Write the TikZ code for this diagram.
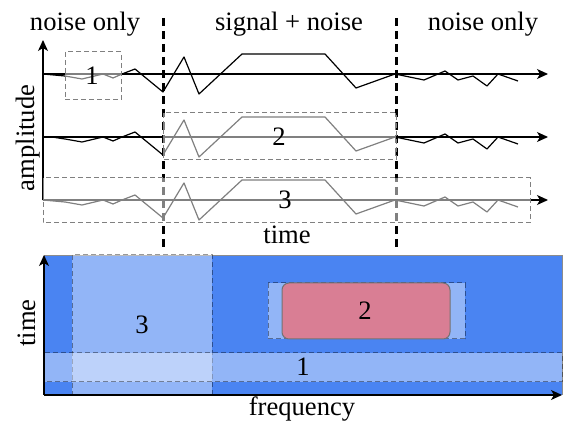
\documentclass[tikz,border=0pt]{standalone}
\usepackage{fontspec}
\setmainfont{Liberation Serif}
\usetikzlibrary{arrows.meta}
\definecolor{tfblue}{RGB}{74,132,242}
\definecolor{tfred}{RGB}{217,126,148}
\tikzset{
  axisarrow/.style={line width=0.6pt,-{Stealth[length=5.5pt,width=5pt,inset=1.5pt]}},
  trace/.style={line width=0.6pt,line join=round},
  border/.style={line width=1.5pt,dash pattern=on 4pt off 2.5pt},
  veil/.style={fill=white,fill opacity=0.5,draw=black!50,line width=0.5pt,dash pattern=on 2.5pt off 1.5pt},
  tfveil/.style={fill=white,fill opacity=0.4,draw=black,draw opacity=0.4,line width=0.5pt,dash pattern=on 2.5pt off 1.5pt},
  lbl/.style={inner sep=0pt,font=\fontsize{13.3}{16}\selectfont},
  pics/noisetail/.style={code={
    \draw[trace] (65,2) -- (82,5) -- (103,0) -- (113,4) -- (122,0) -- (135,-5)
      -- (163,18) -- (184,-17) -- (199,20) -- (242,-20) -- (325,-20) -- (356,14)
      -- (395,0) -- (424,6) -- (445,-3) -- (458,6) -- (473,2) -- (487,12)
      -- (498,0) -- (518,7);
  }}
}
\begin{document}
\begin{tikzpicture}[x=0.5pt,y=-0.5pt]
\useasboundingbox (0,0) rectangle (563,426);

% ---------- time-domain traces ----------
\coordinate (o1) at (43,74);
\coordinate (o2) at (43,137);
\coordinate (o3) at (43,200);
\coordinate (e1) at (548,74);
\coordinate (e2) at (548,137);
\coordinate (e3) at (548,200);
\coordinate (atop) at (43,40);

\draw[axisarrow] (o3) -- (atop);
\draw[axisarrow] (o1) -- (e1);
\draw[axisarrow] (o2) -- (e2);
\draw[axisarrow] (o3) -- (e3);

\draw[trace] (43,74) -- (65,76);
\pic at (0,74) {noisetail};
\draw[trace] (52,137) -- (65,139);
\pic at (0,137) {noisetail};
\draw[trace] (43,200) -- (65,202);
\pic at (0,200) {noisetail};

% region borders
\coordinate (b1t) at (163,18);
\coordinate (b1b) at (163,250);
\coordinate (b2t) at (396,18);
\coordinate (b2b) at (396,250);
\draw[border] (b1t) -- (b1b);
\draw[border] (b2t) -- (b2b);

% selections
\draw[veil] (65,52) rectangle (121,100);
\draw[veil] (163,113) rectangle (396,160);
\draw[veil] (43,178) rectangle (530,223);

\node[lbl] (s1) at (92,76) {1};
\node[lbl] (s2) at (279,137) {2};
\node[lbl] (s3) at (285,200) {3};

\node[lbl,anchor=base] (hl) at (85,31) {noise only};
\node[lbl,anchor=base] (hm) at (289,31) {signal + noise};
\node[lbl,anchor=base] (hr) at (483,31) {noise only};
\node[lbl,anchor=base] (xt) at (287,244) {time};
\node[lbl,anchor=base,rotate=90] (ya) at (34,138) {amplitude};

% ---------- time-frequency plane ----------
\fill[tfblue] (44,255) rectangle (562,395);
\draw[black!45,line width=0.4pt] (44,255) -- (562,255) -- (562,395);
\draw[tfveil] (72,255) rectangle (212,395);
\draw[tfveil] (44,353) rectangle (562,382);
\draw[tfveil] (268,283) rectangle (465,339);
\draw[fill=tfred,draw=black!55,line width=0.5pt,rounded corners=3.5pt] (282,283) rectangle (450,339);

\coordinate (tfo) at (44,395);
\coordinate (tfy) at (44,255);
\coordinate (tfx) at (562,395);
\draw[axisarrow] (tfo) -- (tfy);
\draw[axisarrow] (tfo) -- (tfx);

\node[lbl] (t3) at (142,325) {3};
\node[lbl] (t2) at (365,311) {2};
\node[lbl] (t1) at (303,367) {1};
\node[lbl,anchor=base] (xf) at (302,416) {frequency};
\node[lbl,anchor=base,rotate=90] (yt) at (35,323) {time};
\end{tikzpicture}
\end{document}
